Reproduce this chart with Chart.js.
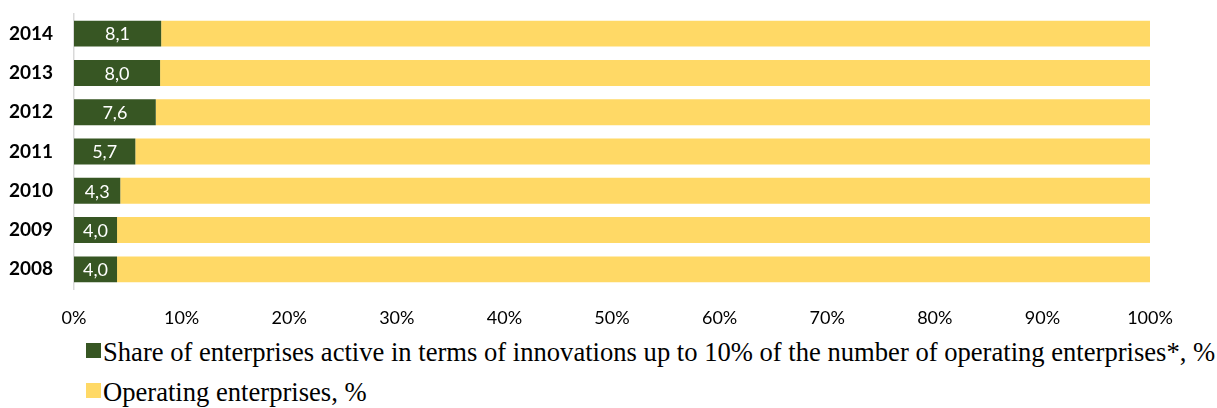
<!DOCTYPE html>
<html>
<head>
<meta charset="utf-8">
<script src="https://cdn.jsdelivr.net/npm/chart.js@4.4.1/dist/chart.umd.min.js"></script>
<style>
  body { margin: 0; background: #fff; }
  #wrap { position: relative; width: 1217px; height: 408px; }
  #chartBox { position: absolute; left: 0; top: 0; width: 1217px; height: 330px; }
  #legend { position: absolute; left: 86px; top: 0; font-family: "Liberation Serif", "Times New Roman", serif; font-size: 26.6px; line-height: 30px; color: #000; }
  .item { position: absolute; left: 0; white-space: nowrap; display: flex; align-items: flex-start; }
  .swatch { width: 15px; height: 15px; margin-top: 6px; margin-right: 2px; }
</style>
</head>
<body>
<div id="wrap">
  <div id="chartBox"><canvas id="chart"></canvas></div>
  <div id="legend"></div>
</div>
<script>
const years = ['2014', '2013', '2012', '2011', '2010', '2009', '2008'];
const innovativeShare = [8.1, 8.0, 7.6, 5.7, 4.3, 4.0, 4.0];
const operatingShare = [91.9, 92.0, 92.4, 94.3, 95.7, 96.0, 96.0];

const seriesNames = [
  'Share of enterprises active in terms of innovations up to 10% of the number of operating enterprises*, %',
  'Operating enterprises, %'
];
const green = '#375623';
const yellow = '#FFD966';

// white value labels in the middle of the green bars
const barLabels = {
  id: 'barLabels',
  afterDatasetsDraw(chart) {
    const ctx = chart.ctx;
    const meta = chart.getDatasetMeta(0);
    ctx.save();
    ctx.font = '18px Lato';
    ctx.fillStyle = '#fff';
    ctx.textAlign = 'center';
    ctx.textBaseline = 'middle';
    meta.data.forEach((bar, i) => {
      const v = chart.data.datasets[0].data[i];
      ctx.fillText(v.toFixed(1).replace('.', ','), (bar.base + bar.x) / 2, bar.y + 1);
    });
    ctx.restore();
  }
};

const chart = new Chart(document.getElementById('chart'), {
  type: 'bar',
  data: {
    labels: years,
    datasets: [{
      label: seriesNames[0],
      data: innovativeShare,
      backgroundColor: green,
      categoryPercentage: 1,
      barPercentage: 0.66
    }, {
      label: seriesNames[1],
      data: operatingShare,
      backgroundColor: yellow,
      categoryPercentage: 1,
      barPercentage: 0.66
    }]
  },
  options: {
    indexAxis: 'y',
    responsive: true,
    maintainAspectRatio: false,
    animation: false,
    layout: { padding: { top: 14, right: 67, bottom: 3, left: 0 } },
    scales: {
      x: {
        stacked: true,
        min: 0,
        max: 100,
        grid: { display: false, drawTicks: false },
        border: { display: false },
        ticks: {
          stepSize: 10,
          padding: 18,
          color: '#000',
          font: { family: 'Lato', size: 18 },
          callback: (v) => v + '%'
        },
        afterFit: (scale) => { scale.height = 38; }
      },
      y: {
        stacked: true,
        grid: { display: false, drawTicks: false },
        border: { display: true, color: '#d9d9d9', width: 1.5 },
        ticks: {
          padding: 21,
          color: '#000',
          font: { family: 'Lato', size: 19, weight: 'bold' }
        },
        afterFit: (scale) => {
          scale.width = 74;
          scale.paddingTop = 0;
          scale.paddingBottom = 0;
        }
      }
    },
    plugins: {
      legend: { display: false },
      tooltip: { enabled: false }
    }
  },
  plugins: [barLabels]
});

// legend rows under the chart
const legendEl = document.getElementById('legend');
chart.data.datasets.forEach((ds, i) => {
  const row = document.createElement('div');
  row.className = 'item';
  row.style.top = (337 + i * 40) + 'px';
  const sw = document.createElement('span');
  sw.className = 'swatch';
  sw.style.background = ds.backgroundColor;
  const txt = document.createElement('span');
  txt.textContent = ds.label;
  row.appendChild(sw);
  row.appendChild(txt);
  legendEl.appendChild(row);
});
</script>
</body>
</html>
